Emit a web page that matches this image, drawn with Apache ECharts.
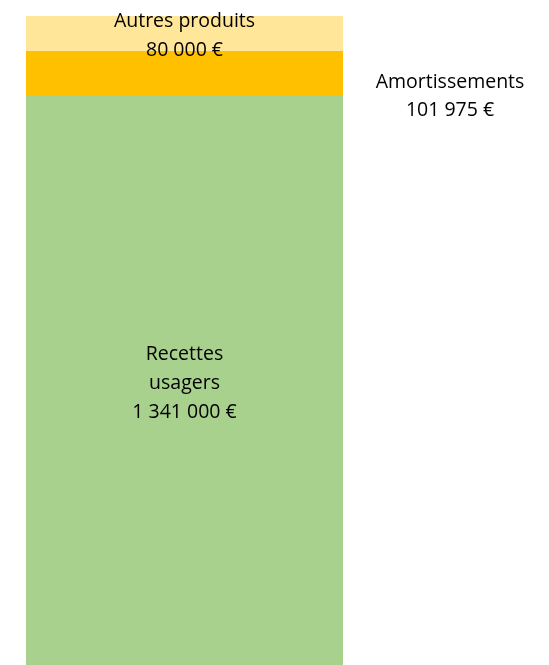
<!DOCTYPE html>
<html>
<head>
<meta charset="utf-8">
<script src="https://cdn.jsdelivr.net/npm/echarts@6/dist/echarts.min.js"></script>
<style>
  html, body { margin: 0; padding: 0; background: #fff; }
  #chart { width: 549px; height: 665px; }
</style>
</head>
<body>
<div id="chart"></div>
<script>
// données
var categories = ['Produits'];
var seriesNames = ['Recettes\nusagers', 'Amortissements', 'Autres produits'];
var recettesUsagers = [1341000];
var amortissements = [101975];
var autresProduits = [80000];
var colors = ['#A9D18E', '#FFC000', '#FFE699'];

var total = recettesUsagers[0] + amortissements[0] + autresProduits[0];

function fmtEuro(v) {
  return String(v).replace(/\B(?=(\d{3})+(?!\d))/g, ' ') + ' €';
}

var font = '"Open Sans", sans-serif';

function lbl(extra) {
  var base = {
    show: true,
    color: '#000',
    fontFamily: font,
    fontSize: 19.5,
    lineHeight: 29,
    align: 'center',
    formatter: function (p) { return p.seriesName + '\n' + fmtEuro(p.value); }
  };
  for (var k in extra) base[k] = extra[k];
  return base;
}

var chart = echarts.init(document.getElementById('chart'));
chart.setOption({
  animation: false,
  // la barre dépasse le bas de l'image
  grid: { left: 26, width: 317, top: 16, bottom: -12, outerBoundsMode: 'none' },
  xAxis: { type: 'category', data: categories, show: false },
  yAxis: { type: 'value', min: 0, max: total, show: false },
  series: [
    {
      name: seriesNames[0], type: 'bar', stack: 'p', barWidth: '100%',
      data: recettesUsagers, itemStyle: { color: colors[0] },
      label: lbl({ position: 'inside', offset: [0, -3] })
    },
    {
      name: seriesNames[1], type: 'bar', stack: 'p', barWidth: '100%',
      data: amortissements, itemStyle: { color: colors[1] },
      // étiquette à droite de la barre
      label: lbl({ position: [424, 46], verticalAlign: 'middle', lineHeight: 28 })
    },
    {
      name: seriesNames[2], type: 'bar', stack: 'p', barWidth: '100%',
      data: autresProduits, itemStyle: { color: colors[2] },
      label: lbl({ position: 'inside', offset: [0, 3] })
    }
  ]
});
</script>
</body>
</html>
